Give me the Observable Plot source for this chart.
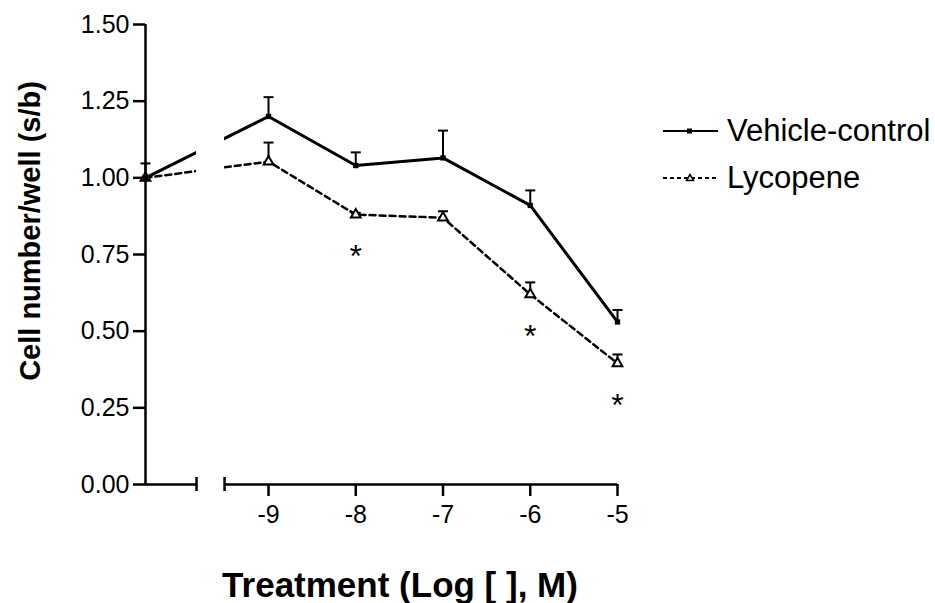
<!DOCTYPE html>
<html><head><meta charset="utf-8">
<script src="https://cdn.jsdelivr.net/npm/d3@7"></script>
<script src="https://cdn.jsdelivr.net/npm/@observablehq/plot@0.6"></script>
<style>
body{margin:0;background:#fff;}
#wrap{position:relative;width:935px;height:603px;font-family:"Liberation Sans",Arial,Helvetica,sans-serif;color:#000;overflow:hidden;}
#wrap svg.chart{position:absolute;left:0;top:0;}
.ytitle{position:absolute;left:30px;top:231px;transform:translate(-50%,-50%) rotate(-90deg);white-space:nowrap;font-weight:bold;font-size:29px;}
.xtitle{position:absolute;left:400px;top:585px;transform:translate(-50%,-50%);white-space:nowrap;font-weight:bold;font-size:35px;}
.li{position:absolute;left:660px;transform:translateY(-50%);display:flex;align-items:center;white-space:nowrap;font-size:31px;}
.li svg{display:block;margin-right:5px;}
</style>
</head><body>
<div id="wrap"></div>
<script>
// ---- data ----
const seriesNames = ["Vehicle-control", "Lycopene"];
const doseLabels = ["control", "-9", "-8", "-7", "-6", "-5"];
const controlPos = -10.41;           // where the control (no drug) group sits on the log axis
const doseLog = [controlPos, -9, -8, -7, -6, -5];
const vehicle    = [1.00, 1.20, 1.04, 1.065, 0.91, 0.53];
const vehicleErr = [0.047, 0.063, 0.043, 0.089, 0.049, 0.039];
const lycopene    = [1.00, 1.053, 0.88, 0.87, 0.62, 0.395];
const lycopeneErr = [0.0, 0.062, 0.006, 0.021, 0.039, 0.029];
const significant = ["-8", "-6", "-5"];  // asterisks (Lycopene vs control)
const xTicks = [-9, -8, -7, -6, -5];
const yTicks = [0, 0.25, 0.5, 0.75, 1.0, 1.25, 1.5];
const axisBreak = [-9.825, -9.504];  // gap in the x axis

// ---- tables ----
const rows = [];
doseLog.forEach((x, i) => {
  rows.push({series: seriesNames[0], x, label: doseLabels[i], v: vehicle[i], hi: vehicle[i] + vehicleErr[i], err: vehicleErr[i]});
  rows.push({series: seriesNames[1], x, label: doseLabels[i], v: lycopene[i], hi: lycopene[i] + lycopeneErr[i], err: lycopeneErr[i]});
});
const veh = rows.filter(d => d.series === seriesNames[0]);
const lyc = rows.filter(d => d.series === seriesNames[1]);
const stars = lyc.filter(d => significant.includes(d.label));
const errRows = rows.filter(d => d.err > 0);
const axisSegments = [{x1: controlPos, x2: axisBreak[0]}, {x1: axisBreak[1], x2: xTicks[xTicks.length - 1]}];

const capSymbol = {draw(ctx) { ctx.moveTo(-5, 0); ctx.lineTo(5, 0); }};

const chart = Plot.plot({
  width: 935, height: 603,
  marginLeft: 145, marginRight: 318, marginTop: 24, marginBottom: 119,
  style: {fontFamily: '"Liberation Sans",Arial,Helvetica,sans-serif', fontSize: "25px", color: "#000", background: "transparent", overflow: "visible"},
  x: {domain: [controlPos, -5]},
  y: {domain: [0, 1.5]},
  marks: [
    Plot.ruleX(errRows, {x: "x", y1: "v", y2: "hi", stroke: "#000", strokeWidth: 2}),
    Plot.dot(errRows, {x: "x", y: "hi", symbol: capSymbol, fill: "none", stroke: "#000", strokeWidth: 2}),
    Plot.line(veh, {x: "x", y: "v", stroke: "#000", strokeWidth: 3}),
    Plot.line(lyc, {x: "x", y: "v", stroke: "#000", strokeWidth: 2.5, strokeDasharray: "6,4"}),
    Plot.rect([axisBreak], {x1: axisBreak[0], x2: axisBreak[1], fill: "white"}),
    Plot.ruleY(axisSegments, {x1: "x1", x2: "x2", y: 0, stroke: "#000", strokeWidth: 2.5}),
    Plot.ruleX([controlPos], {y1: 0, y2: 1.5, stroke: "#000", strokeWidth: 2.5}),
    Plot.ruleX(axisBreak, {x: d => d, y1: 0, y2: 0, insetTop: -7, insetBottom: -7, stroke: "#000", strokeWidth: 2.5}),
    Plot.axisX({ticks: xTicks, tickFormat: d => String(d), tickSize: 12, tickPadding: 9, fontSize: 25, label: null, strokeWidth: 2.5}),
    Plot.axisY({ticks: yTicks, tickFormat: d3.format(".2f"), tickSize: 12, tickPadding: 4, fontSize: 25, label: null, strokeWidth: 2.5}),
    Plot.dot(lyc, {x: "x", y: "v", symbol: "triangle", r: 3.6, fill: "white", stroke: "#000", strokeWidth: 2}),
    Plot.dot(veh, {x: "x", y: "v", symbol: "square", r: d => d.x === controlPos ? 5 : 4, fill: "#000"}),
    Plot.text(stars, {x: "x", y: "v", text: () => "*", dy: 42, fontSize: 32, fill: "#000"})
  ]
});
chart.classList.add("chart");
const wrap = document.getElementById("wrap");
wrap.appendChild(chart);

const yt = document.createElement("div");
yt.className = "ytitle"; yt.textContent = "Cell number/well (s/b)";
wrap.appendChild(yt);
const xt = document.createElement("div");
xt.className = "xtitle"; xt.textContent = "Treatment (Log [ ], M)";
wrap.appendChild(xt);

// legend
const legendTops = [131, 178];
seriesNames.forEach((name, i) => {
  const item = document.createElement("div");
  item.className = "li";
  item.style.top = legendTops[i] + "px";
  const ns = "http://www.w3.org/2000/svg";
  const s = document.createElementNS(ns, "svg");
  s.setAttribute("width", 62); s.setAttribute("height", 20);
  const ln = document.createElementNS(ns, "line");
  ln.setAttribute("x1", 3); ln.setAttribute("x2", 58); ln.setAttribute("y1", 10); ln.setAttribute("y2", 10);
  ln.setAttribute("stroke", "#000"); ln.setAttribute("stroke-width", 2);
  if (i === 1) ln.setAttribute("stroke-dasharray", "4,3");
  s.appendChild(ln);
  if (i === 0) {
    const r = document.createElementNS(ns, "rect");
    r.setAttribute("x", 27); r.setAttribute("y", 7.5); r.setAttribute("width", 5); r.setAttribute("height", 5);
    r.setAttribute("fill", "#000"); s.appendChild(r);
  } else {
    const p = document.createElementNS(ns, "path");
    p.setAttribute("d", "M30,6.5L33.5,12.5L26.5,12.5Z");
    p.setAttribute("fill", "white"); p.setAttribute("stroke", "#000"); p.setAttribute("stroke-width", 1.5);
    s.appendChild(p);
  }
  item.appendChild(s);
  const t = document.createElement("span"); t.textContent = name;
  item.appendChild(t);
  wrap.appendChild(item);
});
</script>
</body></html>
